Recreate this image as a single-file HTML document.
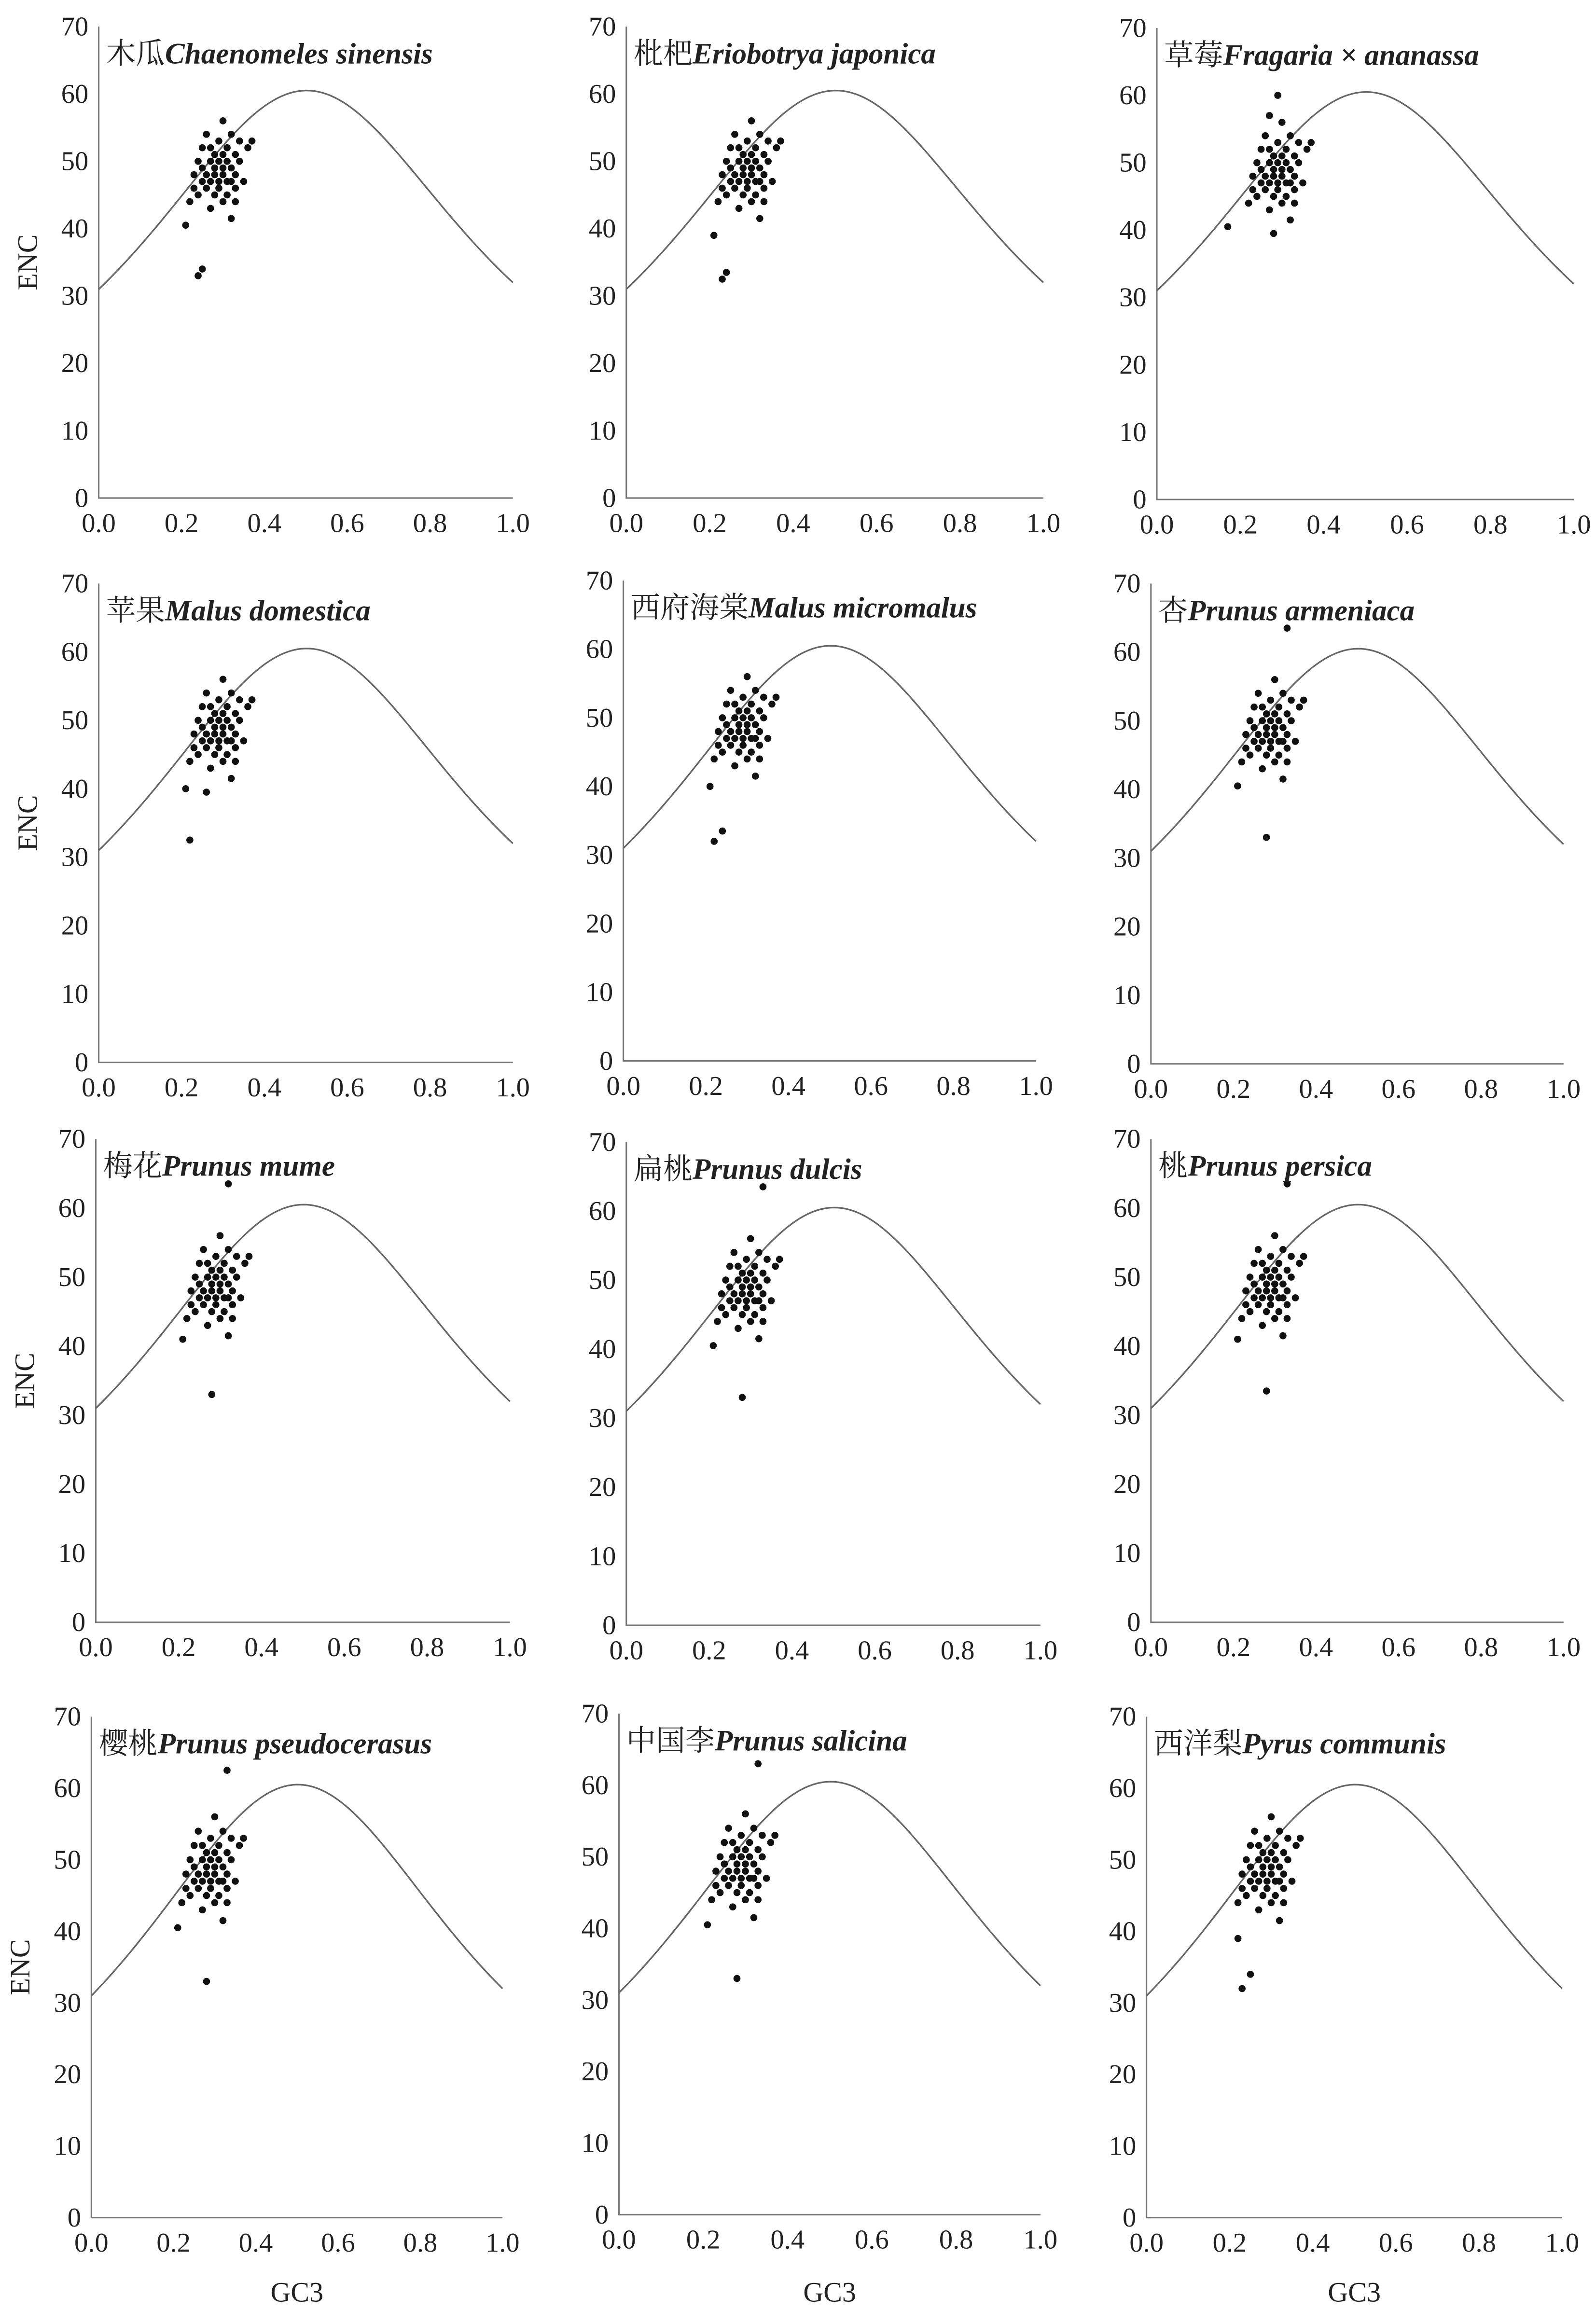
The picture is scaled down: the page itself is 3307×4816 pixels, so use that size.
<!DOCTYPE html>
<html><head><meta charset="utf-8"><style>
html,body{margin:0;padding:0;background:#fff;}
svg{display:block;}
text{font-family:"Liberation Serif","Noto Serif CJK SC",serif;fill:#222;}
</style></head><body>
<svg id="fig" xmlns="http://www.w3.org/2000/svg" width="3307" height="4816" viewBox="0 0 1083 1577.2"></svg>
<script>
const titlesCN=["木瓜","枇杷","草莓","苹果","西府海棠","杏","梅花","扁桃","桃","樱桃","中国李","西洋梨"];
const titlesLatin=["Chaenomeles sinensis","Eriobotrya japonica","Fragaria × ananassa","Malus domestica","Malus micromalus","Prunus armeniaca","Prunus mume","Prunus dulcis","Prunus persica","Prunus pseudocerasus","Prunus salicina","Pyrus communis"];
const xTicks=[0,0.2,0.4,0.6,0.8,1.0];
const xTickLabels=["0.0","0.2","0.4","0.6","0.8","1.0"];
const yTicks=[0,10,20,30,40,50,60,70];
const coreGC3=[0.22,0.23,0.23,0.24,0.24,0.25,0.25,0.25,0.26,0.26,0.26,0.27,0.27,0.27,0.28,0.28,0.28,0.28,0.29,0.29,0.29,0.29,0.30,0.30,0.30,0.30,0.31,0.31,0.31,0.31,0.32,0.32,0.32,0.33,0.33,0.33,0.34,0.34,0.35,0.36,0.37,0.27,0.30,0.32,0.33];
const coreENC=[44,46,48,50,45,47,52,49,54,48,46,50,47,52,49,51,45,48,53,47,50,46,56,49,51,48,47,52,45,50,49,54,47,48,51,46,53,50,47,52,53,43,44,41.5,44];
const extraGC3=[[0.21,0.24,0.25],[0.21,0.23,0.24],[0.17,0.28,0.29,0.27],[0.21,0.22,0.26],[0.21,0.22,0.24],[0.21,0.28,0.33],[0.21,0.28,0.32],[0.21,0.28,0.33],[0.21,0.28,0.33],[0.21,0.28,0.33],[0.21,0.28,0.33],[0.22,0.23,0.25]];
const extraENC=[[40.5,33,34],[39,32.5,33.5],[40.5,39.5,60,57],[40,32.5,39.5],[40,32,33.5],[40.5,33,63.5],[41,33,63.5],[40.5,33,63.5],[41,33.5,63.5],[40.5,33,62.5],[40.5,33,63],[39,32,34]];
const panels=[[67,348,338,18],[425,708,338,18],[785,1068,339,19],
[67,348,721,396],[423,703,720,394],[781,1061,722,396],
[65,346,1101,773],[425,706,1103,775],[781,1061,1101,773],
[62,341,1505,1165],[420,706,1503,1163],[778,1060,1505,1165]];
const NS="http://www.w3.org/2000/svg";
const svg=document.getElementById('fig');
function mk(tag,attrs,parent){const e=document.createElementNS(NS,tag);for(const k in attrs)e.setAttribute(k,attrs[k]);(parent||svg).appendChild(e);return e;}
panels.forEach((p,i)=>{
  const [x0,x1,yb,yt]=p;
  const sx=v=>x0+(x1-x0)*v, sy=v=>yb+(yt-yb)*v/70;
  const g=mk('g',{});
  
  
  const ax=mk('path',{d:`M${x0} ${yt}V${yb}H${x1}`,stroke:'#777',fill:'none','stroke-width':1},g);
  
  
  xTicks.forEach((t,j)=>{const e=mk('text',{x:sx(t),y:yb+23,'font-size':18.5,'text-anchor':'middle'},g);e.textContent=xTickLabels[j];
    
    });
  yTicks.forEach(t=>{const e=mk('text',{x:x0-7,y:sy(t)+6,'font-size':18.5,'text-anchor':'end'},g);e.textContent=t;
    
    });
  let d='';
  for(let k=0;k<=100;k++){const s=k/100;const enc=2+s+29/(s*s+(1-s)*(1-s));d+=(k?'L':'M')+sx(s).toFixed(2)+' '+sy(enc).toFixed(2);}
  const c=mk('path',{d,stroke:'#666',fill:'none','stroke-width':1.1},g);
  
  
  const gs=coreGC3.concat(extraGC3[i]), es=coreENC.concat(extraENC[i]);
  gs.forEach((gv,k)=>{const dt=mk('circle',{cx:sx(gv),cy:sy(es[k]),r:2.4,fill:'#111'},g);
    
    });
  const t=mk('text',{x:x0+5,y:yt+25,'font-size':20},g);
  
  
  const a=mk('tspan',{},t);a.textContent=titlesCN[i];
  const b=mk('tspan',{'font-style':'italic','font-weight':'bold'},t);b.textContent=titlesLatin[i];
  if(i%3===0){const y=mk('text',{x:0,y:0,'font-size':19,'text-anchor':'middle',transform:`translate(${x0-42},${(yb+yt)/2}) rotate(-90)`},g);y.textContent='ENC';
    
    }
  if(i>=9){const x=mk('text',{x:(x0+x1)/2,y:1562,'font-size':19,'text-anchor':'middle'},g);x.textContent='GC3';
    
    }
});
</script>
</body></html>
